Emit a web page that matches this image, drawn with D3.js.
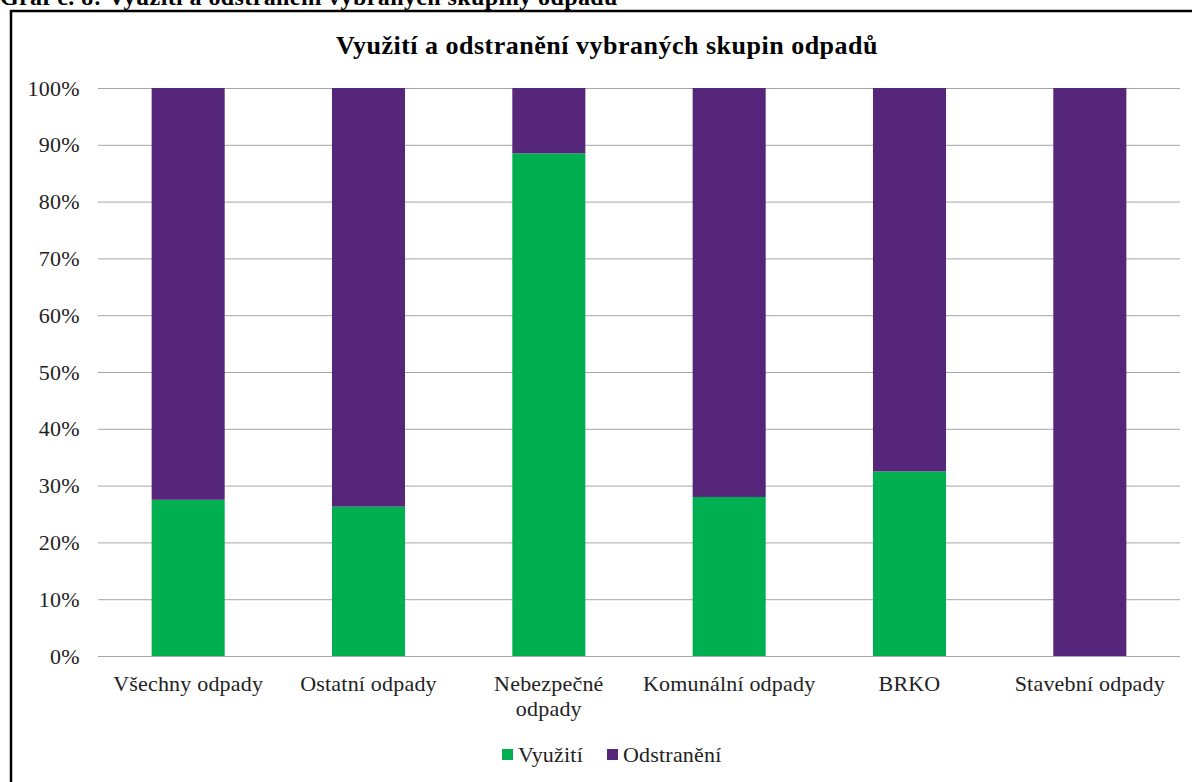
<!DOCTYPE html>
<html>
<head>
<meta charset="utf-8">
<script src="https://cdn.jsdelivr.net/npm/d3@7"></script>
<style>
  body { margin: 0; background: #fff; }
  svg { display: block; font-family: "Liberation Serif", "Times New Roman", serif; }
</style>
</head>
<body>
<svg width="1192" height="782"></svg>
<script>
const categories = ["Všechny odpady", "Ostatní odpady", "Nebezpečné odpady", "Komunální odpady", "BRKO", "Stavební odpady"];
const vyuziti = [27.5, 26.3, 88.5, 28.0, 32.5, 0];
const odstraneni = [72.5, 73.7, 11.5, 72.0, 67.5, 100];
const seriesNames = ["Využití", "Odstranění"];
const colors = ["#00b050", "#55267a"];
const yTicks = [0, 10, 20, 30, 40, 50, 60, 70, 80, 90, 100];

const svg = d3.select("svg");

// caption above the frame (cut off at the top, like in the source)
svg.append("text")
    .attr("x", 0).attr("y", 5)
    .attr("font-weight", "bold").attr("font-size", 24)
    .attr("letter-spacing", 0.4)
    .text("Graf č. 8: Využití a odstranění vybraných skupiny odpadů");

// frame
svg.append("path")
    .attr("d", "M11,782V11H1192")
    .attr("fill", "none").attr("stroke", "#000").attr("stroke-width", 2.5);

svg.append("text")
    .attr("x", 607).attr("y", 54)
    .attr("text-anchor", "middle")
    .attr("font-weight", "bold").attr("font-size", 26)
    .attr("letter-spacing", 0.5)
    .text("Využití a odstranění vybraných skupin odpadů");

const x = d3.scaleBand().domain(categories).range([98, 1180]).paddingInner(0.595).paddingOuter(0.2975);
const y = d3.scaleLinear().domain([0, 100]).range([656, 88]);

// gridlines
svg.append("g").selectAll("line")
    .data(yTicks)
    .join("line")
    .attr("x1", 98).attr("x2", 1180)
    .attr("y1", d => y(d) + 0.5).attr("y2", d => y(d) + 0.5)
    .attr("stroke", "#a6a6a6").attr("stroke-width", 1);

// y tick labels
svg.append("g").selectAll("text")
    .data(yTicks)
    .join("text")
    .attr("x", 80).attr("y", d => y(d) + 7.5)
    .attr("text-anchor", "end")
    .attr("font-size", 22)
    .attr("letter-spacing", 0.3)
    .attr("fill", "#222")
    .text(d => d + "%");

const rows = categories.map((c, i) => ({ cat: c, "Využití": vyuziti[i], "Odstranění": odstraneni[i] }));
const stacked = d3.stack().keys(seriesNames)(rows);

svg.append("g").selectAll("g")
    .data(stacked)
    .join("g")
    .attr("fill", (d, i) => colors[i])
    .selectAll("rect")
    .data(d => d)
    .join("rect")
    .attr("x", d => x(d.data.cat))
    .attr("width", x.bandwidth())
    .attr("y", d => y(d[1]))
    .attr("height", d => y(d[0]) - y(d[1]));

// category labels
const catLabels = { "Nebezpečné odpady": ["Nebezpečné", "odpady"] };
svg.append("g").selectAll("text")
    .data(categories)
    .join("text")
    .attr("x", d => x(d) + x.bandwidth() / 2)
    .attr("y", 691)
    .attr("text-anchor", "middle")
    .attr("font-size", 22)
    .attr("letter-spacing", 0.2)
    .attr("fill", "#222")
    .each(function (d) {
      const lines = catLabels[d] || [d];
      d3.select(this).selectAll("tspan")
        .data(lines)
        .join("tspan")
        .attr("x", x(d) + x.bandwidth() / 2)
        .attr("dy", (l, i) => i ? 25 : 0)
        .text(l => l);
    });

// legend
const legend = svg.append("g");
const legendX = [502, 607];
seriesNames.forEach((s, i) => {
  legend.append("rect")
      .attr("x", legendX[i]).attr("y", 749)
      .attr("width", 11).attr("height", 11)
      .attr("fill", colors[i]);
  legend.append("text")
      .attr("x", legendX[i] + 16).attr("y", 762)
      .attr("font-size", 22)
      .attr("letter-spacing", 0.2)
      .attr("fill", "#222")
      .text(s);
});
</script>
</body>
</html>
